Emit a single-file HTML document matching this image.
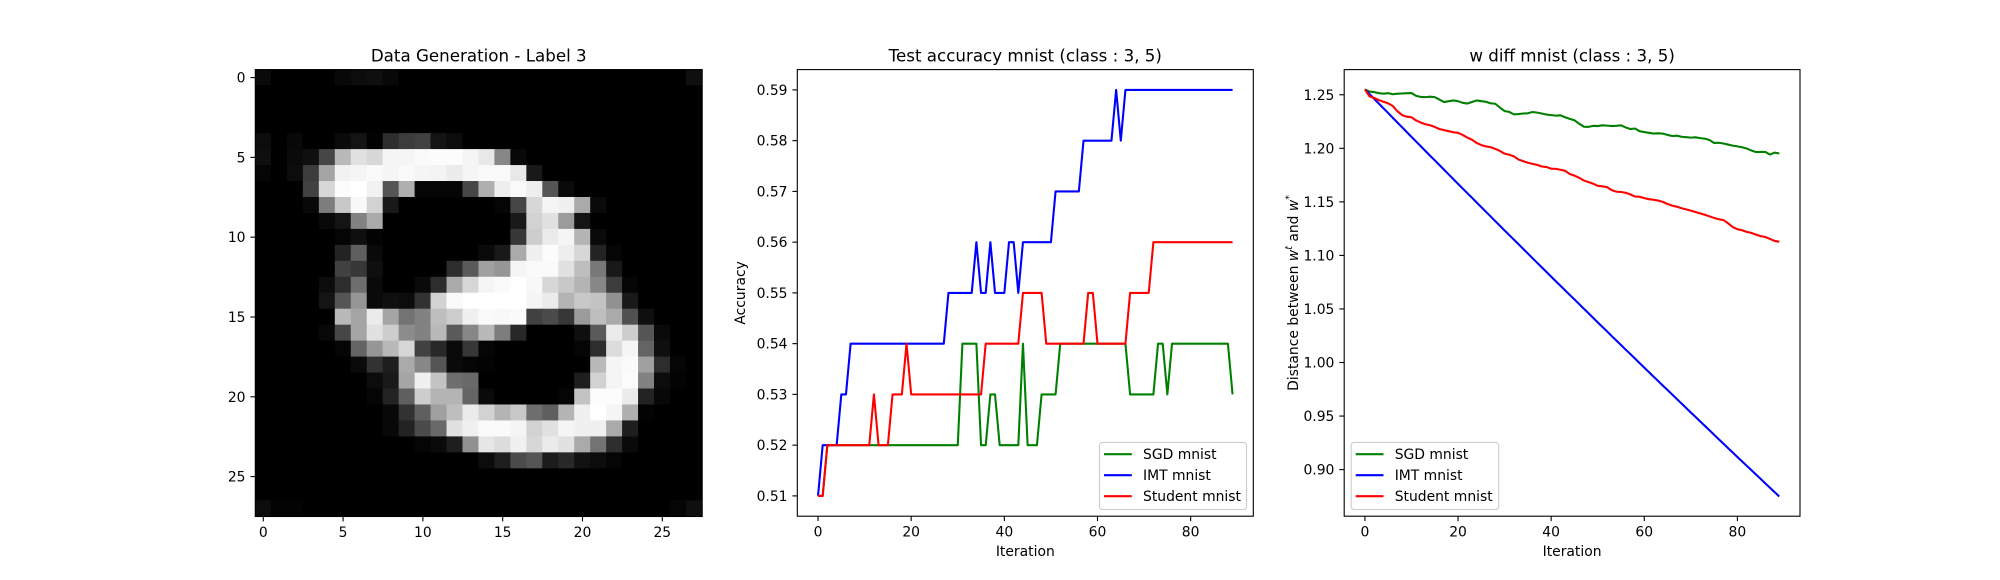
<!DOCTYPE html>
<html><head><meta charset="utf-8"><style>
html,body{margin:0;padding:0;background:#fff;}
svg{display:block;font-family:"DejaVu Sans","Liberation Sans",sans-serif;}
</style></head><body>
<svg id="fig" width="2000" height="580" viewBox="0 0 2000 580" xmlns="http://www.w3.org/2000/svg">
<rect x="0" y="0" width="2000" height="580" fill="#fff"/>
</svg>
<script>
// ---------- DATA ----------
const imgRows = [
[10,0,0,0,0,8,12,15,8,0,0,0,0,0,0,0,0,0,0,0,0,0,0,0,0,0,0,15],
[0],
[0],
[0],
[12,0,8,0,0,10,20,2,45,60,65,20,12],
[15,0,10,15,70,185,225,215,245,245,250,252,252,245,232,135,8],
[5,0,12,60,165,242,245,250,245,250,245,243,235,245,250,250,232,25],
[0,0,0,65,215,252,255,242,85,175,5,5,5,70,175,238,250,238,85,10],
[0,0,0,8,125,200,248,210,25,0,0,0,0,0,0,5,70,215,245,240,170,10],
[0,0,0,0,8,20,130,170,0,0,0,0,0,0,0,0,25,210,225,155,20],
[0,0,0,0,0,5,15,3,0,0,0,0,0,0,0,0,55,205,235,245,180,10],
[0,0,0,0,0,35,95,10,0,0,0,0,0,0,10,25,170,240,252,238,215,35,5],
[0,0,0,0,0,65,55,15,0,0,0,0,45,90,160,150,245,250,250,225,190,120,25],
[0,0,0,0,12,45,110,10,0,0,10,45,170,215,245,250,255,248,215,200,180,135,60,5,0,0,0,0],
[0,0,0,0,20,85,150,10,15,12,50,210,250,255,255,255,255,245,235,180,200,195,145,25,0,0,0,0],
[0,0,0,0,0,185,165,235,165,115,130,190,205,240,250,248,250,65,75,55,155,190,170,80,15,0,0,0],
[0,0,0,0,8,70,165,225,205,140,130,185,90,135,185,125,40,0,0,0,15,90,235,205,85,10,0,0],
[0,0,0,0,0,5,100,150,185,215,65,40,10,55,5,0,0,0,0,0,5,45,220,245,100,15,0,0],
[0,0,0,0,0,0,10,50,30,170,135,85,10,5,3,0,0,0,0,0,0,185,245,250,160,45,5,0],
[0,0,0,0,0,0,0,12,25,165,240,195,110,105,0,0,0,0,0,0,30,210,245,252,130,12,3,0],
[0,0,0,0,0,0,0,5,35,95,205,180,180,100,10,0,0,0,0,5,195,252,252,235,35,8,0,0],
[0,0,0,0,0,0,0,0,8,50,95,160,190,235,210,180,200,110,95,180,240,255,245,175,3,0,0,0],
[0,0,0,0,0,0,0,0,8,35,75,105,225,240,250,250,245,210,225,245,240,240,170,30,0,0,0,0],
[0,0,0,0,0,0,0,0,0,0,5,10,30,145,230,220,240,215,235,225,170,115,45,10,0,0,0,0],
[0,0,0,0,0,0,0,0,0,0,0,0,0,0,12,30,75,85,28,40,18,12,5,0,0,0,0,0],
[0],
[0],
[12,3,3,0,0,0,0,0,0,0,0,0,0,0,0,0,0,0,0,0,0,0,0,0,0,0,5,15]
];
const imgTicks = [0,5,10,15,20,25];

const accSGD = [.51,.51,.52,.52,.52,.52,.52,.52,.52,.52,
.52,.52,.52,.52,.52,.52,.52,.52,.52,.52,
.52,.52,.52,.52,.52,.52,.52,.52,.52,.52,
.52,.54,.54,.54,.54,.52,.52,.53,.53,.52,
.52,.52,.52,.52,.54,.52,.52,.52,.53,.53,
.53,.53,.54,.54,.54,.54,.54,.54,.54,.54,
.54,.54,.54,.54,.54,.54,.54,.53,.53,.53,
.53,.53,.53,.54,.54,.53,.54,.54,.54,.54,
.54,.54,.54,.54,.54,.54,.54,.54,.54,.53];
const accIMT = [.51,.52,.52,.52,.52,.53,.53,.54,.54,.54,
.54,.54,.54,.54,.54,.54,.54,.54,.54,.54,
.54,.54,.54,.54,.54,.54,.54,.54,.55,.55,
.55,.55,.55,.55,.56,.55,.55,.56,.55,.55,
.55,.56,.56,.55,.56,.56,.56,.56,.56,.56,
.56,.57,.57,.57,.57,.57,.57,.58,.58,.58,
.58,.58,.58,.58,.59,.58,.59,.59,.59,.59,
.59,.59,.59,.59,.59,.59,.59,.59,.59,.59,
.59,.59,.59,.59,.59,.59,.59,.59,.59,.59];
const accStudent = [.51,.51,.52,.52,.52,.52,.52,.52,.52,.52,
.52,.52,.53,.52,.52,.52,.53,.53,.53,.54,
.53,.53,.53,.53,.53,.53,.53,.53,.53,.53,
.53,.53,.53,.53,.53,.53,.54,.54,.54,.54,
.54,.54,.54,.54,.55,.55,.55,.55,.55,.54,
.54,.54,.54,.54,.54,.54,.54,.54,.55,.55,
.54,.54,.54,.54,.54,.54,.54,.55,.55,.55,
.55,.55,.56,.56,.56,.56,.56,.56,.56,.56,
.56,.56,.56,.56,.56,.56,.56,.56,.56,.56];
const accYTicks = [0.51,0.52,0.53,0.54,0.55,0.56,0.57,0.58,0.59];
const iterTicks = [0,20,40,60,80];

const wSGD = [1.2550,1.2530,1.2525,1.2515,1.2510,1.2515,1.2505,1.2510,1.2512,1.2515,
1.2516,1.2490,1.2480,1.2478,1.2482,1.2478,1.2455,1.2432,1.2440,1.2447,
1.2440,1.2425,1.2418,1.2432,1.2447,1.2440,1.2435,1.2420,1.2416,1.2380,
1.2348,1.2340,1.2317,1.2320,1.2325,1.2327,1.2339,1.2333,1.2325,1.2315,
1.2310,1.2305,1.2308,1.2290,1.2275,1.2262,1.2230,1.2202,1.2200,1.2210,
1.2208,1.2215,1.2212,1.2208,1.2210,1.2215,1.2195,1.2180,1.2185,1.2160,
1.2152,1.2145,1.2138,1.2140,1.2137,1.2125,1.2115,1.2118,1.2108,1.2104,
1.2100,1.2103,1.2095,1.2090,1.2078,1.2050,1.2052,1.2045,1.2035,1.2025,
1.2018,1.2010,1.1998,1.1980,1.1965,1.1966,1.1966,1.1942,1.1960,1.1952];
const wIMT = [1.2550,1.2506,1.2462,1.2417,1.2373,1.2329,1.2284,1.2240,1.2196,1.2151,
1.2107,1.2063,1.2019,1.1975,1.1931,1.1888,1.1844,1.1800,1.1756,1.1712,
1.1668,1.1625,1.1581,1.1538,1.1494,1.1451,1.1407,1.1364,1.1320,1.1277,
1.1233,1.1190,1.1147,1.1104,1.1061,1.1018,1.0974,1.0931,1.0888,1.0845,
1.0802,1.0759,1.0717,1.0674,1.0631,1.0589,1.0546,1.0503,1.0461,1.0418,
1.0375,1.0333,1.0291,1.0248,1.0206,1.0164,1.0121,1.0079,1.0037,0.9994,
0.9952,0.9910,0.9868,0.9826,0.9784,0.9743,0.9701,0.9659,0.9617,0.9575,
0.9533,0.9492,0.9450,0.9409,0.9367,0.9326,0.9284,0.9243,0.9201,0.9160,
0.9118,0.9077,0.9036,0.8995,0.8954,0.8913,0.8872,0.8831,0.8790,0.8749];
const wStudent = [1.2550,1.2485,1.2470,1.2450,1.2435,1.2420,1.2395,1.2345,1.2310,1.2295,
1.2290,1.2260,1.2240,1.2225,1.2215,1.2200,1.2180,1.2170,1.2160,1.2150,
1.2145,1.2125,1.2100,1.2080,1.2050,1.2030,1.2018,1.2010,1.1995,1.1975,
1.1950,1.1940,1.1925,1.1895,1.1880,1.1865,1.1855,1.1845,1.1830,1.1825,
1.1810,1.1808,1.1800,1.1790,1.1760,1.1745,1.1725,1.1700,1.1685,1.1670,
1.1650,1.1645,1.1638,1.1610,1.1595,1.1592,1.1585,1.1570,1.1550,1.1548,
1.1535,1.1525,1.1520,1.1512,1.1500,1.1480,1.1465,1.1455,1.1440,1.1430,
1.1418,1.1405,1.1392,1.1380,1.1365,1.1350,1.1338,1.1330,1.1300,1.1265,
1.1245,1.1235,1.1220,1.1210,1.1194,1.1180,1.1172,1.1154,1.1135,1.1128];
const wYTicks = [0.90,0.95,1.00,1.05,1.10,1.15,1.20,1.25];
const legendLabels = ["SGD mnist","IMT mnist","Student mnist"];

// ---------- RENDER ----------
const NS = "http://www.w3.org/2000/svg";
const svg = document.getElementById("fig");
function mk(tag, attrs, parent){
  const e = document.createElementNS(NS, tag);
  for (const k in attrs) e.setAttribute(k, attrs[k]);
  (parent || svg).appendChild(e);
  return e;
}
const TICK_FS = 13.9, TITLE_FS = 16.7, TL = 4.9;
const AX_TOP = 69.6, AX_BOT = 516.2;

function axisFrame(g, x0, x1, y0, y1){
  const r = mk("rect", {x:x0, y:y0, width:x1-x0, height:y1-y0, fill:"none", stroke:"#000", "stroke-width":1.1}, g);
  
  
}
function xTick(g, x, yb, label, name){
  const l = mk("line", {x1:x, x2:x, y1:yb, y2:yb+TL, stroke:"#000", "stroke-width":1.1}, g);
  
  
  const t = mk("text", {x:x, y:yb+TL+4.9+TICK_FS*0.76, "font-size":TICK_FS, "text-anchor":"middle", fill:"#000"}, g);
  t.textContent = label;
  
  
}
function yTick(g, xl, y, label, name){
  const l = mk("line", {x1:xl-TL, x2:xl, y1:y, y2:y, stroke:"#000", "stroke-width":1.1}, g);
  
  
  const t = mk("text", {x:xl-TL-4.9, y:y+TICK_FS*0.36, "font-size":TICK_FS, "text-anchor":"end", fill:"#000"}, g);
  t.textContent = label;
  
  
}
function title(g, cx, text){
  const t = mk("text", {x:cx, y:AX_TOP-8.3, "font-size":TITLE_FS, "text-anchor":"middle", fill:"#000"}, g);
  t.textContent = text;
  
  
}

// ---- Panel 1: heatmap ----
(function(){
  const g = mk("g", {});
  
  
  const X0 = 255.3, X1 = 702.2, Y0 = AX_TOP, Y1 = AX_TOP + (X1 - X0);
  const n = imgRows.length;
  const cw = (X1 - X0) / n, ch = (Y1 - Y0) / n;
  const xs = c => X0 + (c + 0.5) * cw;
  const ys = r => Y0 + (r + 0.5) * ch;
  let vmax = 0, vmin = 255;
  imgRows.forEach(row => row.forEach(v => { vmax = Math.max(vmax, v); vmin = Math.min(vmin, v); }));
  imgRows.forEach((row, r) => {
    for (let c = 0; c < n; c++) {
      const v = c < row.length ? row[c] : 0;
      const gv = Math.round(255 * (v - vmin) / (vmax - vmin));
      const cell = mk("rect", {x:X0 + c*cw - 0.3, y:Y0 + r*ch - 0.3, width:cw + 0.6, height:ch + 0.6, fill:`rgb(${gv},${gv},${gv})`}, g);
      
      
    }
  });
  axisFrame(g, X0, X1, Y0, Y1);
  imgTicks.forEach(t => xTick(g, xs(t), Y1, String(t), 'x-tick'));
  imgTicks.forEach(t => yTick(g, X0, ys(t), String(t), 'y-tick'));
  title(g, (X0 + X1) / 2, "Data Generation - Label 3");
})();

// ---- Line charts ----
function lineChart(opts){
  const g = mk("g", {});
  
  
  const {x0, x1} = opts, y0 = AX_TOP, y1 = AX_BOT;
  const xmin = -4.45, xmax = 93.45;
  const xs = v => x0 + (v - xmin) / (xmax - xmin) * (x1 - x0);
  const ys = v => y1 - (v - opts.ymin) / (opts.ymax - opts.ymin) * (y1 - y0);
  const colors = ["#008000", "#0000ff", "#ff0000"];
  opts.series.forEach((s, k) => {
    const d = s.map((v, i) => (i ? "L" : "M") + xs(i).toFixed(2) + "," + ys(v).toFixed(2)).join(" ");
    const p = mk("path", {d, fill:"none", stroke:colors[k], "stroke-width":2.08, "stroke-linejoin":"round"}, g);
    
    
  });
  axisFrame(g, x0, x1, y0, y1);
  iterTicks.forEach(t => xTick(g, xs(t), y1, String(t), 'x-tick'));
  opts.yTicks.forEach(t => yTick(g, x0, ys(t), t.toFixed(2), 'y-tick'));
  title(g, (x0 + x1) / 2, opts.title);
  const xl = mk("text", {x:(x0 + x1) / 2, y:556, "font-size":TICK_FS, "text-anchor":"middle", fill:"#000"}, g);
  xl.textContent = "Iteration";
  
  
  const yl = mk("text", {x:0, y:0, "font-size":TICK_FS, "text-anchor":"middle", fill:"#000", transform:`translate(${opts.ylx},${(y0 + y1) / 2}) rotate(-90)`}, g);
  
  
  if (opts.ylabelParts) {
    opts.ylabelParts.forEach(pt => {
      const ts = mk("tspan", pt.attrs || {}, yl);
      ts.textContent = pt.t;
    });
  } else yl.textContent = opts.ylabel;
  // legend
  const L = opts.legend;
  const lg = mk("g", {}, g);
  
  
  mk("rect", {x:L.x, y:442.4, width:L.w, height:67.1, rx:2.8, fill:"#fff", "fill-opacity":0.8, stroke:"#cccccc", "stroke-width":1.1}, lg);
  legendLabels.forEach((lab, k) => {
    const yy = 454.2 + k * 21;
    const ln = mk("line", {x1:L.x + 4.5, x2:L.x + 32.3, y1:yy, y2:yy, stroke:colors[k], "stroke-width":2.08}, lg);
    
    
    const tx = mk("text", {x:L.x + 43.5, y:yy + 5, "font-size":TICK_FS, fill:"#000"}, lg);
    tx.textContent = lab;
    
    
  });
}

lineChart({
  name:"accuracy-chart", x0:797.3, x1:1253.3, ymin:0.506, ymax:0.594,
  series:[accSGD, accIMT, accStudent], seriesNames:["sgd-accuracy-line","imt-accuracy-line","student-accuracy-line"],
  yTicks:accYTicks, title:"Test accuracy mnist (class : 3, 5)", ylabel:"Accuracy", ylx:745,
  legend:{x:1099.5, w:147}
});
lineChart({
  name:"w-diff-chart", x0:1344.2, x1:1800, ymin:0.8565, ymax:1.2735,
  series:[wSGD, wIMT, wStudent], seriesNames:["sgd-wdiff-line","imt-wdiff-line","student-wdiff-line"],
  yTicks:wYTicks, title:"w diff mnist (class : 3, 5)", ylx:1298,
  ylabelParts:[
    {t:"Distance between "},
    {t:"w", attrs:{"font-style":"italic"}},
    {t:"t", attrs:{"font-style":"italic", "font-size":9.5, dy:-6}},
    {t:" and ", attrs:{dy:6}},
    {t:"w", attrs:{"font-style":"italic"}},
    {t:"*", attrs:{"font-size":9.5, dy:-6}}
  ],
  legend:{x:1351.2, w:147.5}
});
</script>
</body></html>
